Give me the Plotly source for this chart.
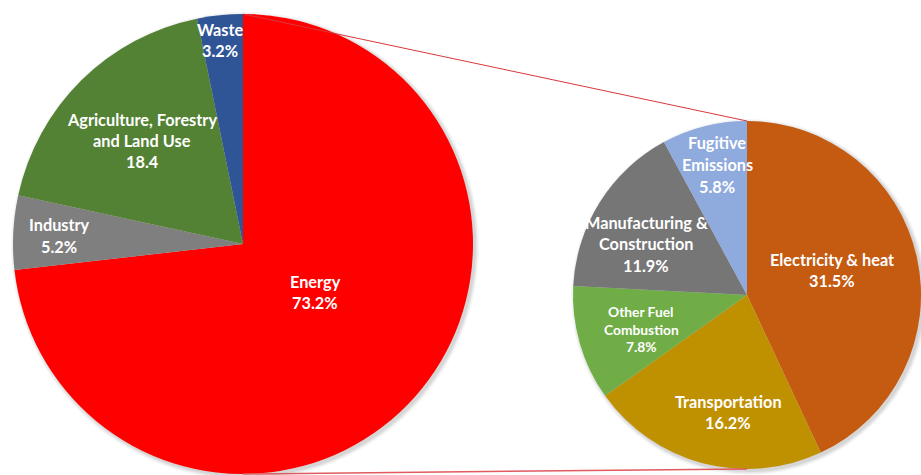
import plotly.graph_objects as go

# Global greenhouse-gas emissions by sector, with the Energy share broken down
main_labels = ["Energy", "Industry", "Agriculture, Forestry<br>and Land Use", "Waste"]
main_values = [73.2, 5.2, 18.4, 3.2]
main_value_text = ["73.2%", "5.2%", "18.4", "3.2%"]
main_colors = ["#FF0000", "#7F7F7F", "#548235", "#2F5597"]

energy_labels = ["Electricity & heat", "Transportation", "Other Fuel<br>Combustion",
                 "Manufacturing &<br>Construction", "Fugitive<br>Emissions"]
energy_values = [31.5, 16.2, 7.8, 11.9, 5.8]
energy_value_text = [f"{v}%" for v in energy_values]
energy_colors = ["#C55A11", "#BF9000", "#70AD47", "#767676", "#8FAADC"]

W, H = 921, 475
FONT = "Lato"

# pie geometry in pixels: centre x, centre y, radius
MAIN = (243, 244, 230)
SUB = (747, 295, 174)


def px(x):
    return x / W


def py(y):
    return 1 - y / H


def domain(c):
    cx, cy, r = c
    return dict(x=[max(0, px(cx - r)), min(1, px(cx + r))],
                y=[max(0, py(cy + r)), min(1, py(cy - r))])


fig = go.Figure()

fig.add_trace(go.Pie(
    labels=[l.replace("<br>", " ") for l in main_labels], values=main_values,
    marker=dict(colors=main_colors, line=dict(width=0)),
    sort=False, direction="clockwise", rotation=0,
    textinfo="none", hoverinfo="label+value", domain=domain(MAIN),
))
fig.add_trace(go.Pie(
    labels=[l.replace("<br>", " ") for l in energy_labels], values=energy_values,
    marker=dict(colors=energy_colors, line=dict(width=0)),
    sort=False, direction="clockwise", rotation=0,
    textinfo="none", hoverinfo="label+value", domain=domain(SUB),
))

shapes = []
# soft drop shadow under both pies
for cx, cy, r in (MAIN, SUB):
    for grow, alpha in ((1, 0.07), (2.5, 0.06), (4, 0.04)):
        shapes.append(dict(
            type="circle", xref="paper", yref="paper", layer="below",
            x0=px(cx - r - grow + 2), x1=px(cx + r + grow + 2),
            y0=py(cy + r + grow + 2), y1=py(cy - r - grow + 2),
            fillcolor=f"rgba(0,0,0,{alpha})", line=dict(width=0),
        ))

# connector lines from the Energy pie to the breakdown pie
mcx, mcy, mr = MAIN
scx, scy, sr = SUB
shapes.append(dict(type="line", xref="paper", yref="paper",
                   x0=px(mcx), y0=py(mcy - mr), x1=px(scx), y1=py(scy - sr),
                   line=dict(color="#D8383C", width=1)))
shapes.append(dict(type="line", xref="paper", yref="paper",
                   x0=px(mcx), y0=py(mcy + mr), x1=px(scx), y1=py(scy + sr),
                   line=dict(color="#E05A5E", width=1.5)))

# label anchors (pixel centre of each text block) and line pitch
main_pos = [(315, 291.5), (59, 235.5), (142, 140), (220, 40)]
energy_pos = [(832, 269.5), (728, 411.5), (641, 329), (646, 244), (717, 164)]
energy_size = [16.3, 16.3, 13.8, 16.3, 16.3]
energy_pitch = [21, 21, 17.5, 21, 22]

annotations = []


def add_label(name, value_text, pos, size, pitch):
    lines = name.split("<br>") + [value_text]
    x, yc = pos
    y0 = yc - pitch * (len(lines) - 1) / 2
    for i, line in enumerate(lines):
        annotations.append(dict(
            x=px(x), y=py(y0 + i * pitch), xref="paper", yref="paper",
            text=f"<b>{line}</b>", showarrow=False,
            xanchor="center", yanchor="middle",
            font=dict(family=FONT, size=size, color="white"),
        ))


for name, vt, pos in zip(main_labels, main_value_text, main_pos):
    add_label(name, vt, pos, 16.3, 21)
for name, vt, pos, s, p in zip(energy_labels, energy_value_text, energy_pos,
                               energy_size, energy_pitch):
    add_label(name, vt, pos, s, p)

fig.update_layout(
    width=W, height=H, margin=dict(l=0, r=0, t=0, b=0),
    paper_bgcolor="white", plot_bgcolor="white",
    showlegend=False, shapes=shapes, annotations=annotations,
)

fig.write_html("out.html")
